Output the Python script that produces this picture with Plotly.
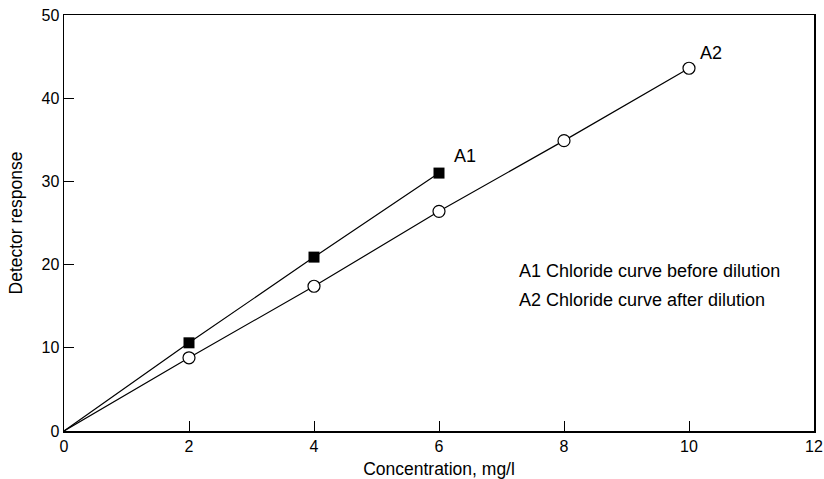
import plotly.graph_objects as go

x_a1 = [0, 2, 4, 6]
y_a1 = [0, 10.6, 20.9, 31.0]
x_a2 = [0, 2, 4, 6, 8, 10]
y_a2 = [0, 8.8, 17.4, 26.4, 34.9, 43.6]
x_ticks = [0, 2, 4, 6, 8, 10, 12]
y_ticks = [0, 10, 20, 30, 40, 50]

font = "Liberation Sans, Arial, sans-serif"

fig = go.Figure()
fig.add_trace(go.Scatter(
    x=x_a1, y=y_a1, mode="lines+markers",
    line=dict(color="black", width=1.2),
    marker=dict(symbol="square", size=[0, 11, 11, 11], color="black", opacity=1,
                line=dict(color="black", width=0)),
    showlegend=False))
fig.add_trace(go.Scatter(
    x=x_a2, y=y_a2, mode="lines+markers",
    line=dict(color="black", width=1.2),
    marker=dict(symbol="circle", size=[0, 12, 12, 12, 12, 12], color="white", opacity=1,
                line=dict(color="black", width=1.2)),
    showlegend=False))

annos = [
    dict(x=6.21, y=33.0, text="A1", xanchor="left", yanchor="middle"),
    dict(x=10.14, y=45.4, text="A2", xanchor="left", yanchor="middle"),
    dict(x=7.25, y=19.2, text="A1 Chloride curve before dilution", xanchor="left", yanchor="middle"),
    dict(x=7.25, y=15.7, text="A2 Chloride curve after dilution", xanchor="left", yanchor="middle"),
]
for a in annos:
    fig.add_annotation(**a, showarrow=False, font=dict(family=font, size=18, color="black"))

fig.update_layout(
    width=824, height=479,
    margin=dict(l=64, r=10, t=15, b=48),
    paper_bgcolor="white", plot_bgcolor="white",
    hovermode=False,
    font=dict(family=font, size=16, color="black"),
    xaxis=dict(range=[0, 12], tickvals=x_ticks, ticks="inside", ticklen=10,
               tickcolor="black", showline=True, linecolor="black", linewidth=1.5,
               mirror=True, showgrid=False, zeroline=False, automargin=False,
               tickfont=dict(size=16),
               title=dict(text="Concentration, mg/l", standoff=10,
                          font=dict(size=17.5))),
    yaxis=dict(range=[0, 50], tickvals=y_ticks, ticks="inside", ticklen=10,
               tickcolor="black", showline=True, linecolor="black", linewidth=1.5,
               mirror=True, showgrid=False, zeroline=False, automargin=False,
               tickfont=dict(size=16),
               title=dict(text="Detector response", standoff=14,
                          font=dict(size=17.5))),
)

fig.write_html("out.html", config={"displayModeBar": False, "staticPlot": True},
               post_script="document.body.style.margin='0';document.body.style.overflow='hidden';")
